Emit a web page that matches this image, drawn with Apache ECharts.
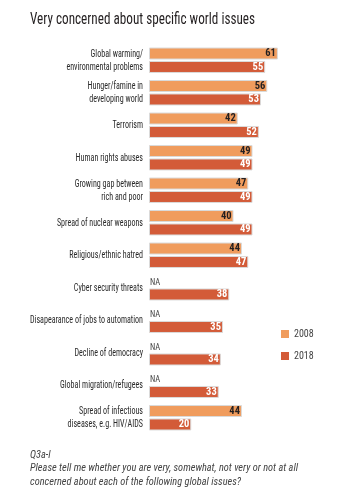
<!DOCTYPE html>
<html><head><meta charset="utf-8">
<script src="https://cdn.jsdelivr.net/npm/echarts@6/dist/echarts.min.js"></script>
<style>html,body{margin:0;padding:0;background:#fff;}#c{width:344px;height:500px;}</style>
</head><body><div id="c"></div>
<script>
const categories = [
  'Global warming/\nenvironmental problems',
  'Hunger/famine in\ndeveloping world',
  'Terrorism',
  'Human rights abuses',
  'Growing gap between\nrich and poor',
  'Spread of nuclear weapons',
  'Religious/ethnic hatred',
  'Cyber security threats',
  'Disapearance of jobs to automation',
  'Decline of democracy',
  'Global migration/refugees',
  'Spread of infectious\ndiseases, e.g. HIV/AIDS'
];
const values2008 = [61, 56, 42, 49, 47, 40, 44, null, null, null, null, 44];
const values2018 = [55, 53, 52, 49, 49, 49, 47, 38, 35, 34, 33, 20];
const seriesNames = ['2008', '2018'];
const naText = 'NA';
const titleText = 'Very concerned about specific world issues';
const noteLines = ['Q3a-l', 'Please tell me whether you are very, somewhat, not very or not at all', 'concerned about each of the following global issues?'];

const FAM = '"Roboto Condensed", "Open Sans", sans-serif';
const ctx = document.createElement('canvas').getContext('2d');
function measure(font, text) { ctx.font = font; return ctx.measureText(text).width; }

const catFont = '11.5px ' + FAM;
const catScale = 113 / measure(catFont, 'Disapearance of jobs to automation');
const titleFont = '17px ' + FAM;
const titleScale = 225 / measure(titleFont, titleText);
const noteFont = 'italic 11px ' + FAM;
const noteScale = 268 / measure(noteFont, noteLines[1]);

const chart = echarts.init(document.getElementById('c'), null, {renderer: 'canvas'});
chart.setOption({
  animation: false,
  backgroundColor: '#fff',
  legend: {
    orient: 'vertical', left: 276, top: 324,
    itemWidth: 8, itemHeight: 8, itemGap: 12,
    icon: 'rect',
    data: seriesNames,
    itemStyle: {borderWidth: 0},
    textStyle: {fontFamily: FAM, fontSize: 10, color: '#444'}
  },
  grid: {left: 149, top: 44, width: 169, height: 390, containLabel: false},
  xAxis: {type: 'value', min: 0, max: 80, show: false},
  yAxis: {
    type: 'category', inverse: true, data: categories,
    axisLine: {show: false}, axisTick: {show: false}, axisLabel: {show: false}
  },
  series: [
    {
      name: seriesNames[0], type: 'bar', barWidth: 12, barGap: '12%',
      data: values2008.map(v => v === null ? {
        value: 0,
        itemStyle: {borderWidth: 0},
        label: {position: 'right', distance: 1, offset: [0, 1.5], fontSize: 8.5, fontWeight: 'normal', color: '#444'}
      } : v),
      itemStyle: {color: '#F09C5D', borderColor: '#DADADA', borderWidth: 1},
      label: {
        show: true, position: 'insideRight', distance: 2,
        fontFamily: FAM, fontSize: 10.5, fontWeight: 'bold', color: '#231F20',
        formatter: p => (values2008[p.dataIndex] === null ? naText : p.value)
      }
    },
    {
      name: seriesNames[1], type: 'bar', barWidth: 12,
      data: values2018,
      itemStyle: {color: '#D35B38', borderColor: '#DADADA', borderWidth: 1},
      label: {
        show: true, position: 'insideRight', distance: 2,
        fontFamily: FAM, fontSize: 10.5, fontWeight: 'bold', color: '#fff'
      }
    }
  ]
});

const grid = chart.getModel().getComponent('grid').coordinateSystem.getRect();
const graphics = [];
graphics.push({type: 'text', x: 30, y: 20, scaleX: titleScale, silent: true,
  style: {text: titleText, font: titleFont, fill: '#231F20', verticalAlign: 'middle'}});
categories.forEach((c, i) => {
  const y = chart.convertToPixel({yAxisIndex: 0}, i);
  graphics.push({type: 'text', x: grid.x - 6, y: y, scaleX: catScale, silent: true,
    style: {text: c, font: catFont, fill: '#2A2A2A', align: 'right', verticalAlign: 'middle', lineHeight: 13}});
});
noteLines.forEach((t, i) => {
  graphics.push({type: 'text', x: 30, y: 455 + i * 13.5, scaleX: noteScale, silent: true,
    style: {text: t, font: noteFont, fill: '#444', verticalAlign: 'middle'}});
});
chart.setOption({graphic: graphics});
</script></body></html>
